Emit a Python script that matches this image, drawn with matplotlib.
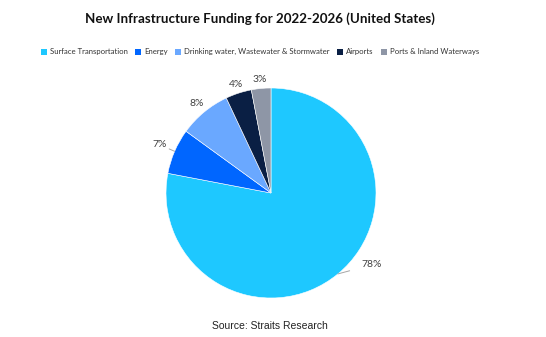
import numpy as np
import matplotlib
matplotlib.use("Agg")
import matplotlib.pyplot as plt
from matplotlib.patches import Patch

categories = ["Surface Transportation", "Energy", "Drinking water, Wastewater & Stormwater",
              "Airports", "Ports & Inland Waterways"]
shares = [78, 7, 8, 4, 3]
colors = ["#1EC8FF", "#0066FF", "#6AA8FF", "#0A1F44", "#8E96A6"]

# label placement: (radius, angle offset in degrees, draw leader)
label_pos = [(1.18, 15, True), (1.16, 0, True), (1.11, 0, False), (1.09, 0, False), (1.09, 0, False)]

W, H = 546, 337
fig = plt.figure(figsize=(W / 100, H / 100), dpi=100)

cx, cy, r = 271, 193, 105
span = 1.3
ax = fig.add_axes([(cx - r * span) / W, (H - cy - r * span) / H, 2 * r * span / W, 2 * r * span / H])

wedges, _ = ax.pie(shares, colors=colors, startangle=90, counterclock=False, radius=1,
                   wedgeprops=dict(linewidth=0.4, edgecolor="white"))
ax.set_xlim(-span, span)
ax.set_ylim(-span, span)
ax.set_aspect("equal")
ax.axis("off")

for w, val, (rad, dang, leader) in zip(wedges, shares, label_pos):
    mid = np.deg2rad((w.theta1 + w.theta2) / 2)
    tang = mid + np.deg2rad(dang)
    tx, ty = rad * np.cos(tang), rad * np.sin(tang)
    if leader:
        ex, ey = np.cos(mid), np.sin(mid)
        ax.annotate(f"{val}%", xy=(ex, ey), xytext=(tx, ty), ha="center", va="center",
                    fontsize=7.5, color="#404040", family="Lato",
                    arrowprops=dict(arrowstyle="-", color="#A6A6A6", lw=0.7,
                                    shrinkA=7, shrinkB=0))
    else:
        ax.text(tx, ty, f"{val}%", ha="center", va="center", fontsize=7.5,
                color="#404040", family="Lato")

fig.text(0.476, 0.945, "New Infrastructure Funding for 2022-2026 (United States)",
         ha="center", va="center", fontsize=9.6, fontweight="bold", family="Lato", color="#111111")

handles = [Patch(facecolor=c, edgecolor="none") for c in colors]
fig.legend(handles, categories, loc="center", bbox_to_anchor=(0.476, 0.846), ncol=5,
           frameon=False, prop=dict(family="Lato", size=5.6), handlelength=0.8, handleheight=0.8,
           handletextpad=0.4, columnspacing=0.9, labelcolor="#333333")

fig.text(0.495, 0.033, "Source: Straits Research", ha="center", va="center",
         fontsize=7.5, family="Liberation Sans", color="#222222")

fig.savefig("out.png", dpi=100, facecolor="white")
